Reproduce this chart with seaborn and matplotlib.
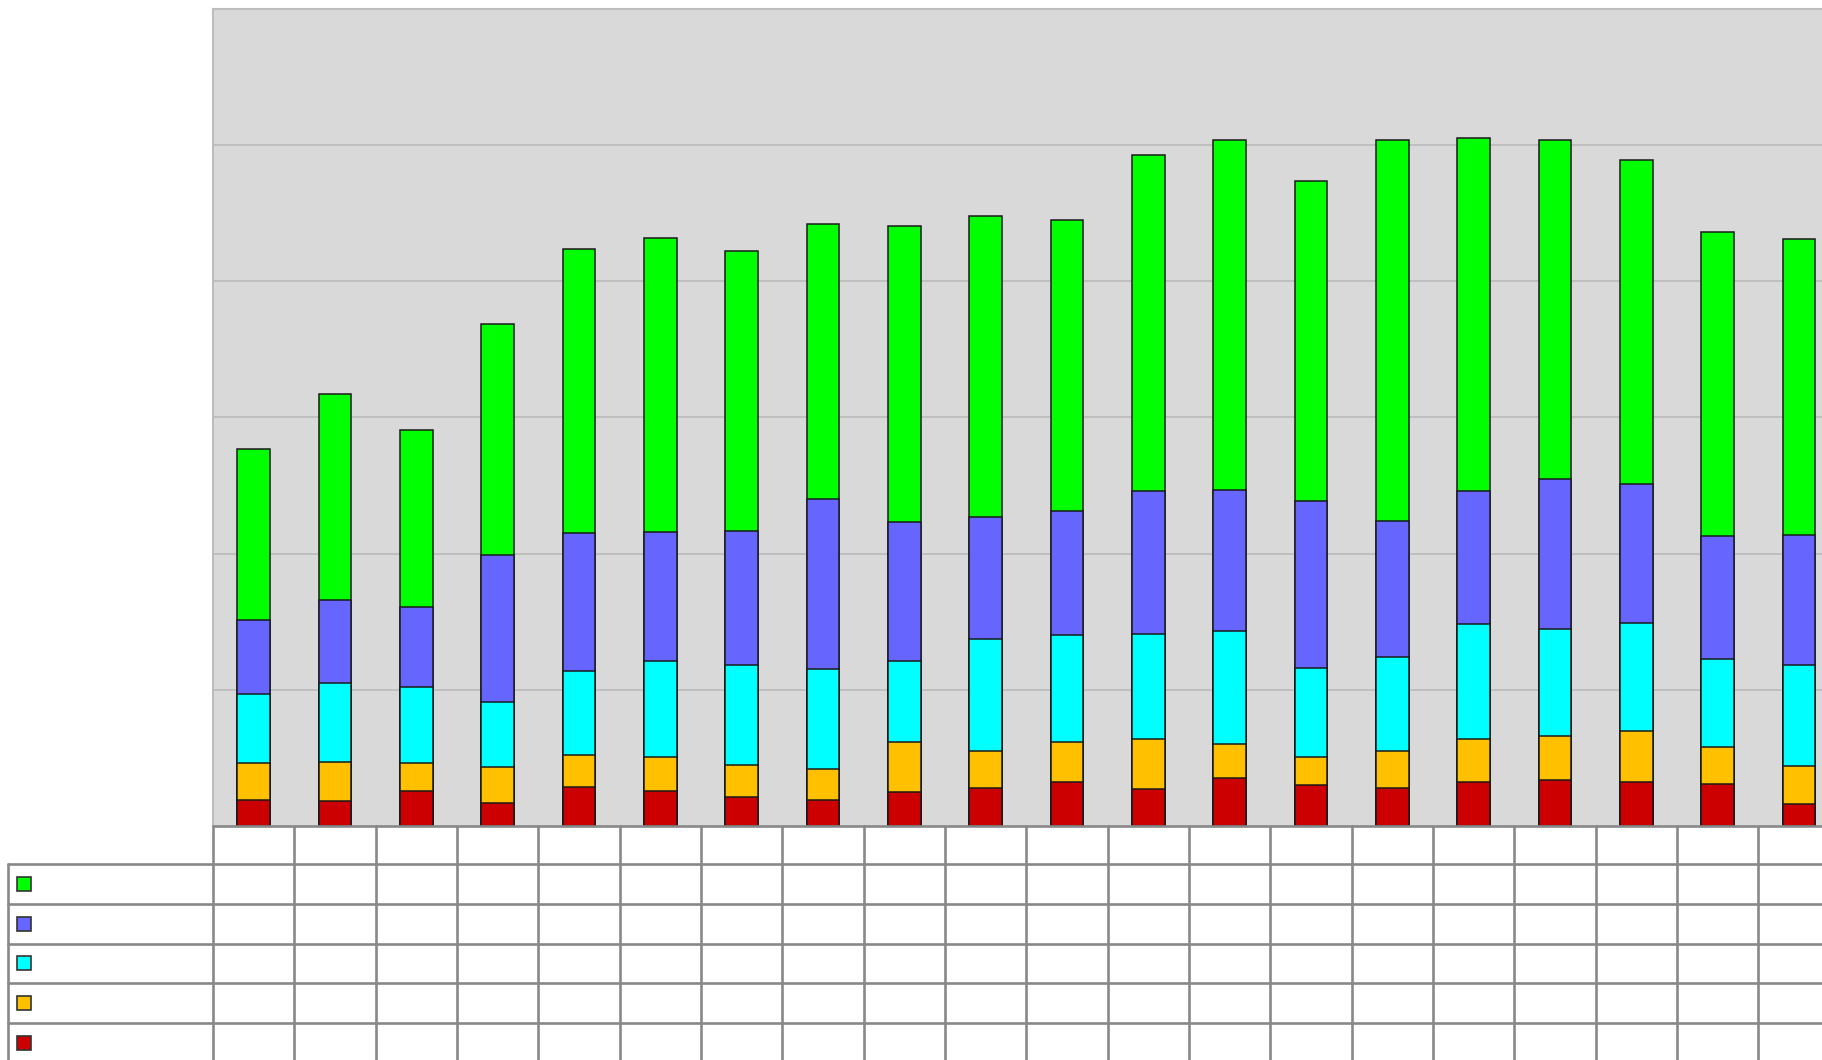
import matplotlib
matplotlib.use("Agg")
import matplotlib.pyplot as plt
from matplotlib.patches import Rectangle
from matplotlib.lines import Line2D
import seaborn as sns
import pandas as pd
import numpy as np

# ---- data (grid step = 100) ----
categories = [str(i) for i in range(1, 21)]
red    = [19, 18, 26, 17, 29, 26, 21, 19, 25, 28, 32, 27, 35, 30, 28, 32, 34, 32, 31, 16]
orange = [27, 29, 20, 26, 23, 25, 24, 23, 37, 27, 30, 37, 25, 21, 27, 32, 32, 38, 27, 28]
cyan   = [51, 58, 56, 48, 62, 70, 73, 73, 59, 82, 78, 77, 83, 65, 69, 84, 79, 79, 65, 74]
blue   = [54, 61, 59, 108, 101, 95, 99, 125, 102, 90, 91, 105, 104, 123, 100, 98, 110, 102, 90, 96]
green  = [126, 151, 130, 170, 209, 216, 205, 202, 218, 221, 214, 247, 257, 235, 280, 259, 249, 238, 223, 217]

series_names = ["red", "orange", "cyan", "blue", "green"]
series_vals = [red, orange, cyan, blue, green]
colors = {"red": "#cc0000", "orange": "#ffc000", "cyan": "#00ffff",
          "blue": "#6666ff", "green": "#00ff00"}

df = pd.DataFrame({n: v for n, v in zip(series_names, series_vals)}, index=categories)
cum = df.cumsum(axis=1)

W, H = 1822, 1060
sns.set_theme(style="white")
fig = plt.figure(figsize=(W / 100, H / 100), dpi=100)
fig.patch.set_facecolor("white")

x_left, y_base, y_top = 213, 826, 9
colw = 81.33
ax = fig.add_axes([x_left / W, (H - y_base) / H, (W - x_left) / W, (y_base - y_top) / H])
ax.set_facecolor("#d9d9d9")

# stacked bars: draw cumulative totals from top series down
for name in reversed(series_names):
    sns.barplot(x=categories, y=cum[name].values, order=categories, color=colors[name],
                width=0.4, edgecolor="#1a1a1a", linewidth=1.1, saturation=1, ax=ax, zorder=3)

ax.set_xlim(-0.5, -0.5 + (W - x_left) / colw)
ax.set_ylim(0, 600)
ax.set_yticks([100, 200, 300, 400, 500])
ax.yaxis.grid(True, color="#bdbdbd", linewidth=1.3, zorder=0)
ax.set_axisbelow(True)
ax.set_xticks([])
ax.set_yticklabels([])
ax.tick_params(left=False, bottom=False)
ax.set_xlabel("")
ax.set_ylabel("")
for s in ["top", "left"]:
    ax.spines[s].set_visible(True)
    ax.spines[s].set_color("#bdbdbd")
    ax.spines[s].set_linewidth(1.5)
ax.spines["right"].set_visible(False)
ax.spines["bottom"].set_visible(False)

# ---- table below (pixel coordinates overlay) ----
tax = fig.add_axes([0, 0, 1, 1], zorder=5)
tax.set_xlim(0, W)
tax.set_ylim(H, 0)
tax.axis("off")
tax.patch.set_alpha(0)

lc = "#888888"
lw = 1.9
n = len(categories)
col_bounds = [x_left + i * colw for i in range(n + 1)]
header_top = y_base
row_tops = [864.3, 904.0, 943.6, 983.3, 1023.0]
label_left = 8.3

# horizontal lines
tax.add_line(Line2D([x_left, W], [header_top, header_top], color=lc, lw=lw))
for yy in row_tops:
    tax.add_line(Line2D([label_left, W], [yy, yy], color=lc, lw=lw))
# vertical lines
for xb in col_bounds:
    if xb <= W + 1:
        tax.add_line(Line2D([xb, xb], [header_top, H], color=lc, lw=lw))
tax.add_line(Line2D([label_left, label_left], [row_tops[0], H], color=lc, lw=lw))

# legend squares in row-label cells (top row = top series)
row_order = ["green", "blue", "cyan", "orange", "red"]
sq = 14
for yy, name in zip(row_tops, row_order):
    cy = yy + 19.8
    tax.add_patch(Rectangle((16.7, cy - sq / 2), sq, sq, facecolor=colors[name],
                            edgecolor="#333333", linewidth=1.2))

fig.savefig("out.png", dpi=100, facecolor="white")
